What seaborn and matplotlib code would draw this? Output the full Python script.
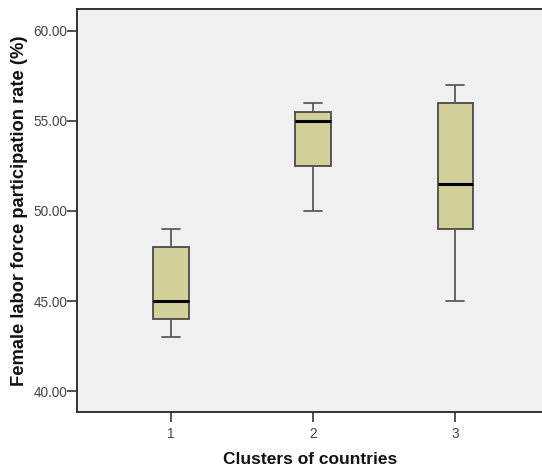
import numpy as np
import pandas as pd
import matplotlib
matplotlib.use("Agg")
import matplotlib.pyplot as plt
import seaborn as sns

# --- values (five-number summaries per cluster) ---
cluster_1 = [43.0, 44.0, 45.0, 48.0, 49.0]
cluster_2 = [50.0, 52.5, 55.0, 55.5, 56.0]
cluster_3 = [45.0, 49.0, 51.5, 56.0, 57.0]
cluster_labels = ["1", "2", "3"]
y_ticks = [40, 45, 50, 55, 60]

BOX_FILL = "#d3cf99"
BG = "#f0f0f0"

sns.set_theme(style="white")
plt.rcParams["font.family"] = ["Liberation Sans", "DejaVu Sans"]

df = pd.DataFrame({
    "cluster": [cluster_labels[0]] * len(cluster_1)
               + [cluster_labels[1]] * len(cluster_2)
               + [cluster_labels[2]] * len(cluster_3),
    "rate": cluster_1 + cluster_2 + cluster_3,
})

fig = plt.figure(figsize=(5.42, 4.67), dpi=100)
ax = fig.add_axes([0.142, 0.118, 0.862, 0.862])
ax.set_facecolor(BG)

sns.boxplot(
    data=df, x="cluster", y="rate", order=cluster_labels, ax=ax,
    color=BOX_FILL, width=0.25, linecolor="#4a4a4a", linewidth=1.3,
    whis=1.5, fliersize=0,
    boxprops={"facecolor": BOX_FILL, "edgecolor": "#4a4a4a"},
    whiskerprops={"color": "#5a5a5a", "linewidth": 1.3},
    capprops={"color": "#5a5a5a", "linewidth": 1.3},
    medianprops={"color": "#000000", "linewidth": 2.2},
)

ax.set_ylim(38.85, 61.19)
ax.set_xlim(-0.662, 2.625)
ax.set_yticks(y_ticks)
ax.set_yticklabels([f"{v:.2f}" for v in y_ticks])

ax.tick_params(axis="both", direction="out", length=7, width=1.2,
               color="#333333", labelsize=9.8, labelcolor="#444444",
               left=True, bottom=True)
ax.tick_params(axis="y", pad=0)
ax.tick_params(axis="x", pad=4)

for side in ["left", "bottom", "top"]:
    ax.spines[side].set_color("#333333")
    ax.spines[side].set_linewidth(1.4)
ax.spines["right"].set_visible(False)

ax.set_xlabel("Clusters of countries", fontsize=12.5, fontweight="bold",
              color="#111111", labelpad=8)
ax.set_ylabel("Female labor force participation rate (%)", fontsize=13.2,
              fontweight="bold", color="#111111", labelpad=4)

fig.savefig("out.png", dpi=100, facecolor="white")
